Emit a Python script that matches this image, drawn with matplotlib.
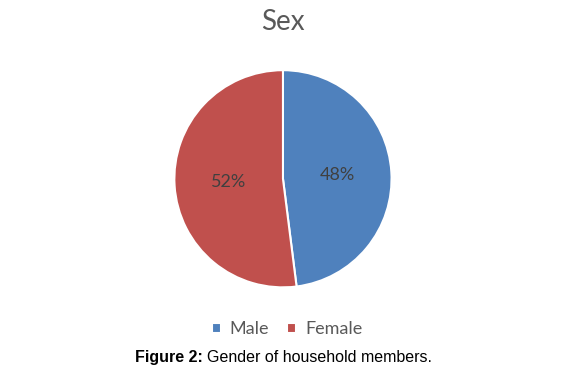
import matplotlib.pyplot as plt

# ── data
labels = ["Male", "Female"]
shares = [48, 52]
colors = ["#4F81BD", "#C0504D"]

fig = plt.figure(figsize=(5.63, 3.74), dpi=100)
ax = fig.add_axes([0.3126, 0.236, 0.380, 0.572])

wedges, texts, autotexts = ax.pie(
    shares, colors=colors, startangle=90, counterclock=False,
    autopct="%d%%", pctdistance=0.5,
    wedgeprops=dict(edgecolor="white", linewidth=1.5),
    textprops=dict(family="Lato", fontsize=13, color="#404040"))
ax.set_xlim(-0.985, 0.985)
ax.set_ylim(-0.985, 0.985)
ax.set_aspect("equal")

fig.text(0.503, 0.94, "Sex", ha="center", va="center",
         family="Lato", fontsize=20, color="#595959")

leg = fig.legend(wedges, labels, loc="center", bbox_to_anchor=(0.51, 0.12),
                 ncol=2, frameon=False, handlelength=0.5, handleheight=0.5,
                 handletextpad=0.5, columnspacing=1.0,
                 prop=dict(family="Lato", size=13))
for t in leg.get_texts():
    t.set_color("#595959")

# caption, bold part + normal part
cap_y = 0.043
t1 = fig.text(0.24, cap_y, "Figure 2:", ha="left", va="center",
              family="Liberation Sans", fontsize=11.5, weight="bold")
fig.canvas.draw()
bb = t1.get_window_extent()
x2 = (bb.x1 + 4) / fig.bbox.width
fig.text(x2, cap_y, "Gender of household members.", ha="left", va="center",
         family="Liberation Sans", fontsize=11.5)

fig.savefig("out.png", dpi=100)
